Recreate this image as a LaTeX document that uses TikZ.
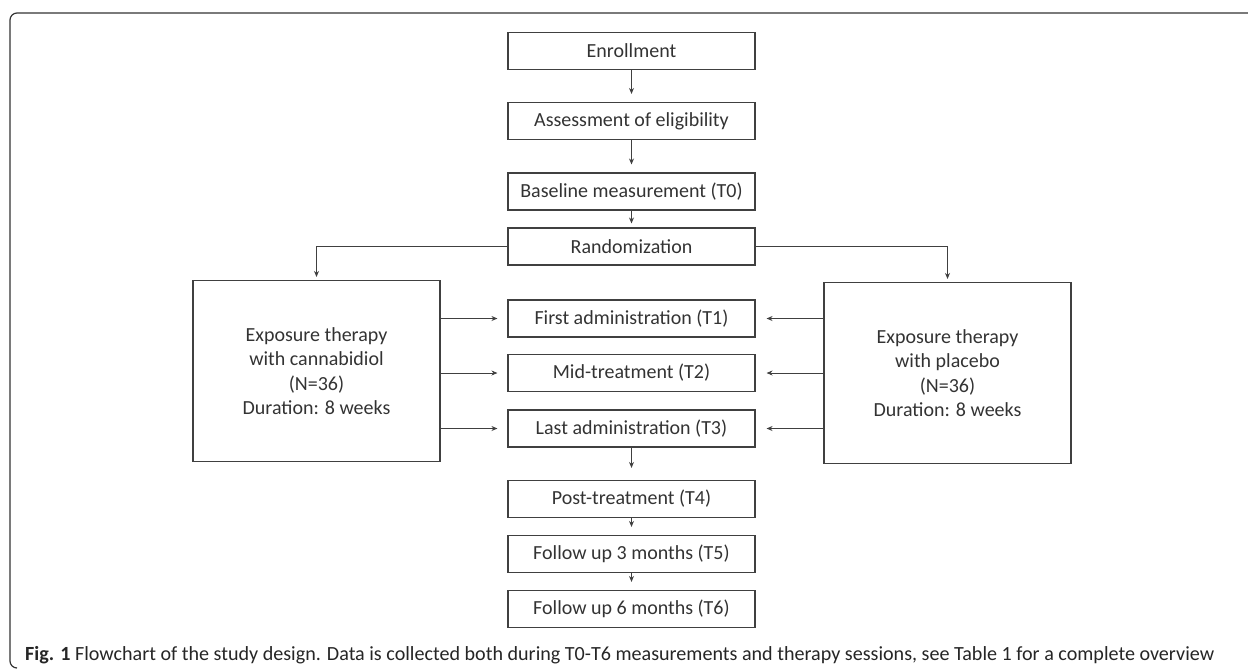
\documentclass[tikz,border=0pt]{standalone}
\usepackage{fontspec}
\setmainfont{Carlito}
\usetikzlibrary{arrows.meta}
\tikzset{
  box/.style={draw=black!75, line width=1.1pt, minimum width=247pt, minimum height=37pt,
    inner sep=0pt, text=black!80, font=\fontsize{20}{24.3}\selectfont},
  bigbox/.style={draw=black!75, line width=1.1pt, minimum width=247pt, minimum height=181pt,
    inner sep=0pt, align=center, text=black!80, font=\fontsize{20}{24.3}\selectfont},
  arr/.style={draw=black!75, line width=0.9pt, -{Stealth[length=6pt,width=5pt]}},
  frame/.style={draw=black!80, line width=1.2pt, rounded corners=7pt}
}
\begin{document}
\begin{tikzpicture}[x=1pt,y=-1pt]
\useasboundingbox (0,0) rectangle (1248,670);
% outer frame
\draw[frame] (1250,13) -- (10,13) -- (10,668) -- (17,668);
% centre column
\node[box] (enr)  at (631.5,51)    {Enrollment};
\node[box] (ass)  at (631.5,121)   {Assessment of eligibility};
\node[box] (base) at (631.5,191.5) {Baseline measurement (T0)};
\node[box] (rand) at (631.5,246.5) {Randomization};
\node[box] (t1)   at (631.5,318.5) {First administration (T1)};
\node[box] (t2)   at (631.5,373)   {Mid-treatment (T2)};
\node[box] (t3)   at (631.5,428.5) {Last administration (T3)};
\node[box] (t4)   at (631.5,499)   {Post-treatment (T4)};
\node[box] (t5)   at (631.5,554)   {Follow up 3 months (T5)};
\node[box] (t6)   at (631.5,609)   {Follow up 6 months (T6)};
% side boxes
\node[bigbox] (cbd) at (316.5,371) {Exposure therapy\\with cannabidiol\\(N=36)\\Duration: 8 weeks};
\node[bigbox] (pla) at (947.5,373) {Exposure therapy\\with placebo\\(N=36)\\Duration: 8 weeks};
% vertical arrows
\draw[arr, shorten >=8pt] (enr.south) -- (ass.north);
\draw[arr, shorten >=8pt] (ass.south) -- (base.north);
\draw[arr, shorten >=4pt] (base.south) -- (rand.north);
\draw[arr, shorten >=12pt] (t3.south) -- (t4.north);
\draw[arr, shorten >=8pt] (t4.south) -- (t5.north);
\draw[arr, shorten >=8pt] (t5.south) -- (t6.north);
% randomization branches
\draw[arr, shorten >=3pt] (rand.west) -| (cbd.north);
\draw[arr, shorten >=3pt] (rand.east) -| (pla.north);
% horizontal arrows
\draw[arr, shorten >=10pt] (cbd.east |- t1) -- (t1.west);
\draw[arr, shorten >=10pt] (cbd.east |- t2) -- (t2.west);
\draw[arr, shorten >=10pt] (cbd.east |- t3) -- (t3.west);
\draw[arr, shorten >=11pt] (pla.west |- t1) -- (t1.east);
\draw[arr, shorten >=11pt] (pla.west |- t2) -- (t2.east);
\draw[arr, shorten >=11pt] (pla.west |- t3) -- (t3.east);
% caption
\node[anchor=base west, inner sep=0pt, font=\fontsize{20.1}{22}\selectfont, text=black!85] (cap) at (25,660)
  {\textbf{Fig. 1} Flowchart of the study design. Data is collected both during T0-T6 measurements and therapy sessions, see Table 1 for a complete overview};
\end{tikzpicture}
\end{document}
